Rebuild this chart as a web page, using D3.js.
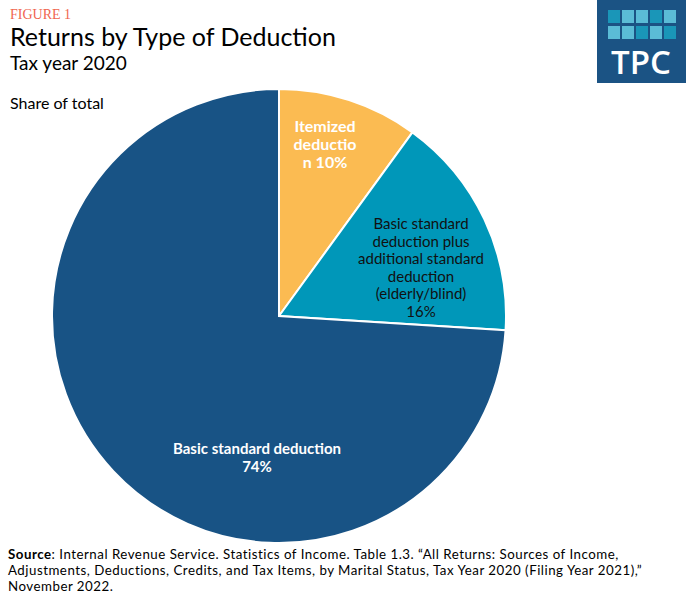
<!DOCTYPE html>
<html>
<head>
<meta charset="utf-8">
<script src="https://cdn.jsdelivr.net/npm/d3@7"></script>
<style>
  body { margin: 0; background: #fff; }
  svg { display: block; font-family: Lato, "Open Sans", sans-serif; }
</style>
</head>
<body>
<div id="chart"></div>
<script>
// data
const categories = ["Itemized deduction", "Basic standard deduction plus additional standard deduction (elderly/blind)", "Basic standard deduction"];
const shares = [10, 16, 74];
const labelLines = [
  ["Itemized", "deductio", "n 10%"],
  ["Basic standard", "deduction plus", "additional standard", "deduction", "(elderly/blind)", "16%"],
  ["Basic standard deduction", "74%"]
];
const colors = ["#fbbb52", "#0097b9", "#185385"];

const width = 686, height = 599;
const cx = 279, cy = 316, radius = 227;

const svg = d3.select("#chart").append("svg")
  .attr("width", width)
  .attr("height", height);

// header
svg.append("text").attr("x", 10).attr("y", 19)
  .attr("font-family", "'Liberation Serif', serif").attr("font-size", 14)
  .attr("fill", "#f0654f").text("FIGURE 1");
svg.append("text").attr("x", 10).attr("y", 46)
  .attr("font-size", 25).attr("fill", "#000").text("Returns by Type of Deduction");
svg.append("text").attr("x", 10).attr("y", 70)
  .attr("font-size", 19).attr("fill", "#000").text("Tax year 2020");
svg.append("text").attr("x", 10).attr("y", 109)
  .attr("font-size", 16).attr("fill", "#000").text("Share of total");

// TPC logo
const logo = svg.append("g").attr("transform", "translate(597,0)");
logo.append("rect").attr("width", 89).attr("height", 83).attr("fill", "#1b5384");
const tileCols = ["#1a96b8", "#5bbcd6", "#5bbcd6", "#1a96b8", "#5bbcd6"];
for (let r = 0; r < 2; r++) {
  for (let c = 0; c < 5; c++) {
    logo.append("rect")
      .attr("x", 11 + c * 14).attr("y", 10 + r * 16)
      .attr("width", 12).attr("height", 13)
      .attr("fill", r === 0 ? tileCols[c] : tileCols[(c + 1) % 5]);
  }
}
logo.append("text").attr("x", 44).attr("y", 74)
  .attr("text-anchor", "middle").attr("font-family", "'Open Sans', sans-serif")
  .attr("font-weight", 600).attr("font-size", 33).attr("fill", "#fff").text("TPC");

// pie
const pie = d3.pie().sort(null).value(d => d);
const arc = d3.arc().innerRadius(0).outerRadius(radius);
const arcs = pie(shares);

const g = svg.append("g").attr("transform", `translate(${cx},${cy})`);
g.selectAll("path")
  .data(arcs)
  .join("path")
  .attr("d", arc)
  .attr("fill", (d, i) => colors[i])
  .attr("stroke", "#fff")
  .attr("stroke-width", 2);

// labels, one text per line
const labelPos = [
  { x: 325, y: 132, dy: 18, color: "#fff", weight: 700, size: 16 },
  { x: 421, y: 229, dy: 17.6, color: "#111", weight: 400, size: 15 },
  { x: 257, y: 454, dy: 18, color: "#fff", weight: 700, size: 15 }
];
labelLines.forEach((lines, i) => {
  const p = labelPos[i];
  lines.forEach((l, j) => {
    svg.append("text")
      .attr("x", p.x).attr("y", p.y + j * p.dy)
      .attr("text-anchor", "middle")
      .attr("fill", p.color)
      .attr("font-weight", p.weight)
      .attr("font-size", p.size)
      .text(l);
  });
});

// source
const srcLines = [
  ": Internal Revenue Service. Statistics of Income. Table 1.3. \u201CAll Returns: Sources of Income,",
  "Adjustments, Deductions, Credits, and Tax Items, by Marital Status, Tax Year 2020 (Filing Year 2021),\u201D",
  "November 2022."
];
const srcSize = 13.3, srcSpacing = 0.5;
const srcHead = svg.append("text").attr("x", 8).attr("y", 559)
  .attr("font-size", srcSize).attr("letter-spacing", srcSpacing)
  .attr("font-weight", 700).text("Source");
const headW = srcHead.node().getComputedTextLength();
srcLines.forEach((l, i) => {
  svg.append("text")
    .attr("x", i === 0 ? 8 + headW : 8).attr("y", 559 + i * 16)
    .attr("font-size", srcSize).attr("letter-spacing", srcSpacing)
    .attr("fill", "#000").text(l);
});
</script>
</body>
</html>
